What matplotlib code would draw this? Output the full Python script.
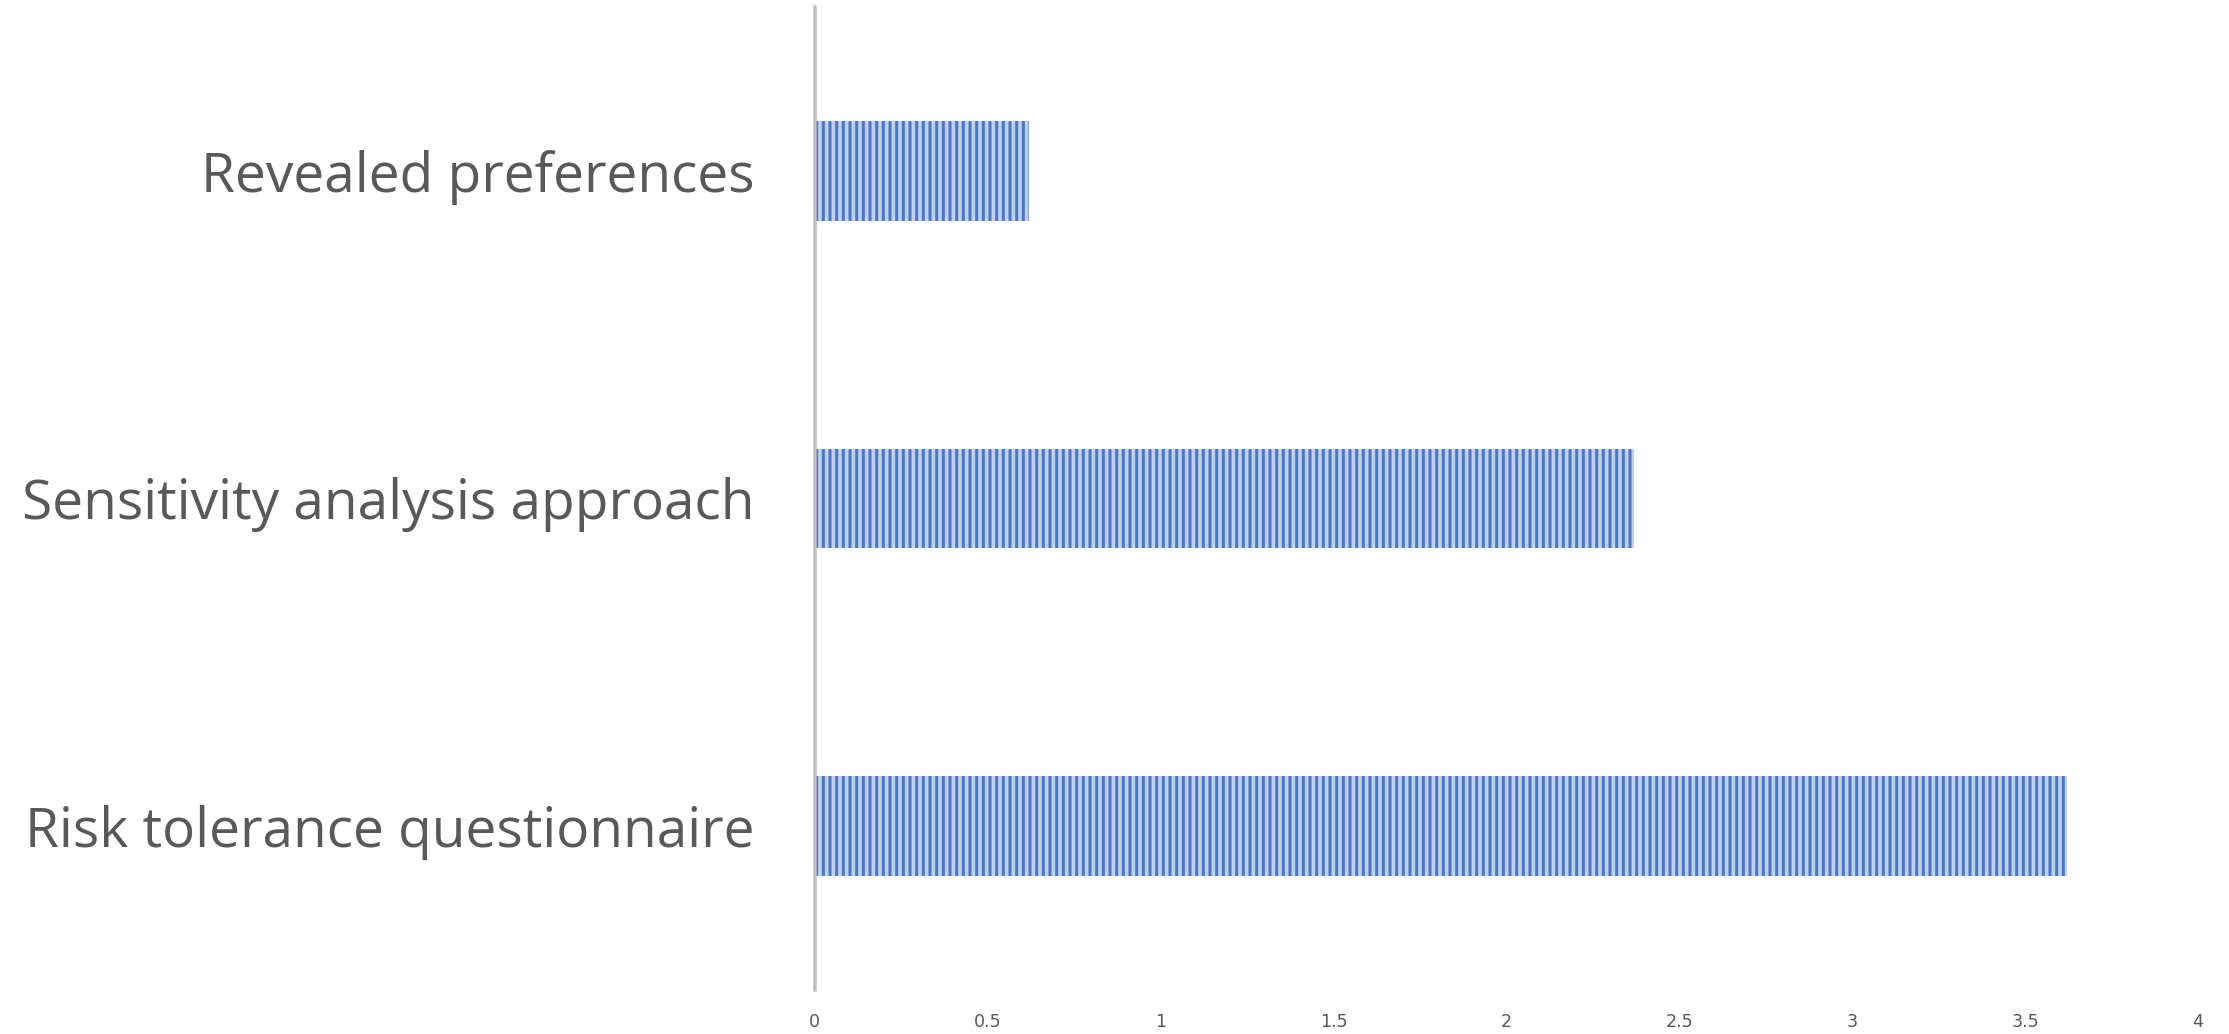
import matplotlib.pyplot as plt

categories = ['Risk tolerance questionnaire', 'Sensitivity analysis approach', 'Revealed preferences']
values = [3.62, 2.37, 0.62]
xticks = [0, 0.5, 1, 1.5, 2, 2.5, 3, 3.5, 4]
xtick_labels = ['0', '0.5', '1', '1.5', '2', '2.5', '3', '3.5', '4']

plt.rcParams['hatch.linewidth'] = 1.8

fig = plt.figure(figsize=(2229 / 120, 1034 / 120), dpi=120)
ax = fig.add_axes([0.3656, 0.0426, 0.6205, 0.9506])

ax.barh(range(len(categories)), values, height=0.305, color='#c0d0ee',
        edgecolor='#4a78c8', linewidth=0, hatch='|||')

ax.set_xlim(0, 4)
ax.set_ylim(-0.5, len(categories) - 0.5)
ax.set_yticks(range(len(categories)))
ax.set_yticklabels(categories, fontsize=33, color='#595959', family='Open Sans')
ax.set_xticks(xticks)
ax.set_xticklabels(xtick_labels, fontsize=10.5, color='#595959')

ax.tick_params(axis='y', length=0, pad=36)
ax.tick_params(axis='x', length=0, pad=14)

for s in ['top', 'right', 'bottom']:
    ax.spines[s].set_visible(False)
ax.spines['left'].set_color('#bfbfbf')
ax.spines['left'].set_linewidth(2.1)

plt.savefig('out.png', dpi=120)
